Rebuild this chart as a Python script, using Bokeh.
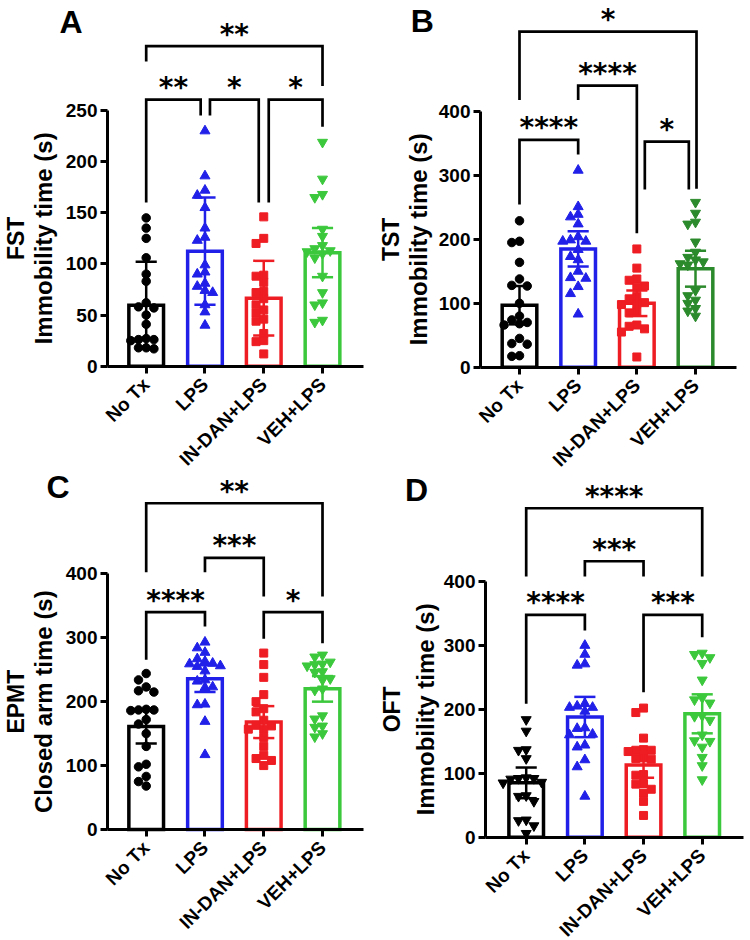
import math
from bokeh.plotting import figure
from bokeh.layouts import gridplot
from bokeh.models import FixedTicker, Label, Range1d
from bokeh.core.properties import value
from bokeh.embed import file_html
from bokeh.resources import INLINE

groups = ["No Tx", "LPS", "IN-DAN+LPS", "VEH+LPS"]

# ---- Forced swim test: immobility time (s)
fst_notx = [145, 135, 125, 106, 90, 83, 62, 58, 57, 50, 41, 27, 26, 26, 25, 18, 18, 17]
fst_lps = [230, 186, 172, 167, 155, 135, 126, 123, 99, 92, 90, 81, 78, 74, 72, 60, 53, 40]
fst_indan = [146, 125, 120, 89, 88, 82, 73, 72, 66, 60, 55, 52, 46, 44, 32, 25, 24, 12]
fst_veh = [219, 183, 168, 165, 134, 127, 118, 115, 113, 112, 110, 106, 88, 72, 62, 60, 45, 43]
fst_mean = [59.5, 112.5, 66.5, 111]
fst_err = [42.5, 52.5, 36.5, 24]
fst_sig = [(0, 3, "**"), (0, 1, "**"), (1, 2, "*"), (2, 3, "*")]

# ---- Tail suspension test: immobility time (s)
tst_notx = [229, 197, 195, 164, 138, 128, 127, 100, 80, 74, 70, 68, 66, 45, 37, 36, 18, 17]
tst_lps = [308, 251, 239, 235, 224, 204, 199, 197, 197, 184, 173, 168, 150, 140, 139, 126, 115, 83]
tst_indan = [185, 155, 138, 136, 127, 125, 111, 107, 101, 99, 98, 87, 85, 66, 64, 60, 55, 16]
tst_veh = [258, 241, 227, 224, 196, 180, 172, 168, 165, 162, 160, 120, 112, 105, 100, 92, 88, 80]
tst_mean = [97, 185, 100, 154]
tst_err = [30, 27.5, 20, 28]
tst_sig = [(0, 3, "*"), (1, 2, "****"), (0, 1, "****"), (2, 3, "*")]

# ---- Elevated plus maze: closed arm time (s)
epmt_notx = [244, 234, 223, 217, 215, 188, 187, 187, 186, 172, 165, 150, 130, 102, 98, 83, 75, 68]
epmt_lps = [293, 284, 277, 267, 263, 260, 259, 256, 255, 248, 234, 232, 223, 222, 196, 195, 169, 117]
epmt_indan = [276, 258, 238, 211, 200, 189, 184, 171, 163, 162, 157, 157, 144, 130, 116, 111, 108, 100]
epmt_veh = [273, 270, 262, 259, 258, 256, 247, 246, 236, 234, 220, 218, 178, 173, 162, 160, 150, 145]
epmt_mean = [161, 236, 168, 220]
epmt_err = [26.5, 21, 25, 20]
epmt_sig = [(0, 3, "**"), (1, 2, "***"), (0, 1, "****"), (2, 3, "*")]

# ---- Open field test: immobility time (s)
oft_notx = [184, 166, 137, 136, 123, 93, 92, 92, 91, 86, 85, 65, 64, 56, 27, 26, 18, 6]
oft_lps = [300, 286, 271, 269, 209, 205, 203, 203, 197, 171, 170, 161, 160, 144, 141, 121, 110, 64]
oft_indan = [202, 195, 155, 137, 136, 136, 134, 124, 123, 122, 98, 97, 84, 83, 75, 69, 56, 34]
oft_veh = [288, 286, 281, 272, 246, 218, 215, 210, 190, 189, 183, 160, 151, 150, 141, 125, 112, 90]
oft_mean = [85, 188, 113, 193]
oft_err = [24, 31.5, 20, 30.5]
oft_sig = [(0, 3, "****"), (1, 2, "***"), (0, 1, "****"), (2, 3, "***")]

BLACK = "#000000"
BLUE = "#2020e8"
RED = "#ee1d23"
GREEN = "#3cc83c"
DKGREEN = "#2b8a2b"

FONT = "Liberation Sans"
W, H = 375, 470
AXIS_PX = 255.7  # pixel length of the value axis


def swarm(vals, sy, sx, step=7.7):
    """Spread equal-ish values sideways so markers do not overlap."""
    order = sorted(range(len(vals)), key=lambda i: -vals[i])
    placed, offs = [], [0.0] * len(vals)
    cand = [0, -1, 1, -2, 2, -3, 3, -4, 4]
    for i in order:
        y = vals[i] * sy
        for k in cand:
            x = k * step
            if all((x - px) ** 2 + (y - py) ** 2 >= (step * 0.92) ** 2 for px, py in placed):
                break
        placed.append((x, y))
        offs[i] = x / sx
    return offs


def panel(letter, line1, line2, ymax, tstep, series, means, errs, colors, markers,
          sig, legs, geo):
    # geo: pixel geometry inside the W x H canvas
    sx = geo["sx"]                  # px per category step
    sy = AXIS_PX / ymax             # px per unit of the value axis
    xlo = 1 - geo["c1"] / sx        # c1: px of the first category
    xhi = xlo + W / sx
    yhi = geo["y0"] / sy            # y0: px of the zero line from the top
    ylo = -(H - geo["y0"]) / sy

    def dx(px):
        return xlo + px / sx

    def dy(py):
        return (geo["y0"] - py) / sy

    p = figure(width=W, height=H, x_range=Range1d(xlo, xhi), y_range=Range1d(ylo, yhi),
               output_backend="svg", toolbar_location=None,
               min_border_left=0, min_border_right=0,
               min_border_bottom=0, min_border_top=0)
    p.outline_line_color = None
    p.xgrid.visible = False
    p.ygrid.visible = False
    p.background_fill_color = "white"
    p.border_fill_color = "white"

    xs = [1, 2, 3, 4]
    p.vbar(x=xs, top=means, bottom=0, width=0.59, fill_color="white",
           line_color=colors, line_width=3.5, line_join="miter")

    # scatter of individual animals
    sizes = {"circle": 8.5, "triangle": 10, "square": 8, "inverted_triangle": 10}
    for i, vals in enumerate(series):
        offs = swarm(vals, sy, sx)
        p.scatter(x=[xs[i] + o for o in offs], y=vals, marker=markers[i],
                  size=sizes[markers[i]], fill_color=colors[i], line_color=colors[i])

    # error bars with caps
    lo = [m - e for m, e in zip(means, errs)]
    hi = [m + e for m, e in zip(means, errs)]
    cw = 0.18
    p.segment(x0=xs, y0=lo, x1=xs, y1=hi, line_color=colors, line_width=2.5)
    p.segment(x0=[x - cw for x in xs], y0=hi, x1=[x + cw for x in xs], y1=hi,
              line_color=colors, line_width=2.5)
    p.segment(x0=[x - cw for x in xs], y0=lo, x1=[x + cw for x in xs], y1=lo,
              line_color=colors, line_width=2.5)

    # significance brackets
    bx, by, tx, ty, tt = [], [], [], [], []
    for (a, b, stars), (level, ya, yb, da, db) in zip(sig, legs):
        xa, xb = xs[a] + da, xs[b] + db
        bx.append([xa, xa, xb, xb])
        by.append([ya, level, level, yb])
        tx.append((xa + xb) / 2)
        ty.append(level)
        tt.append(stars)
    p.multi_line(xs=bx, ys=by, line_color="black", line_width=2.7, line_join="miter")
    p.text(x=tx, y=ty, text=tt, text_font=value("DejaVu Sans"), text_font_style="bold",
           text_font_size="28px", text_align="center", text_baseline="alphabetic",
           y_offset=-12, text_color="black")

    # axes drawn at fixed positions inside the canvas
    p.yaxis.fixed_location = dx(geo["ax"])
    p.yaxis.bounds = (0, ymax)
    p.yaxis.ticker = FixedTicker(ticks=list(range(0, ymax + 1, tstep)))
    p.xaxis.fixed_location = 0
    p.xaxis.bounds = (dx(geo["ax"]), dx(geo["ax_end"]))
    p.xaxis.ticker = FixedTicker(ticks=xs)
    p.xaxis.major_label_overrides = {x: g for x, g in zip(xs, groups)}
    p.xaxis.major_label_orientation = math.pi / 4
    for ax in (p.xaxis, p.yaxis):
        ax.axis_line_width = 3
        ax.axis_line_color = "black"
        ax.major_tick_line_width = 3
        ax.major_tick_line_color = "black"
        ax.major_tick_out = 7
        ax.major_tick_in = 0
        ax.minor_tick_line_color = None
        ax.major_label_text_font = FONT
        ax.major_label_text_font_style = "bold"
        ax.major_label_text_color = "black"
    p.yaxis.major_label_text_font_size = "19px"
    p.yaxis.major_label_standoff = 3
    p.xaxis.major_label_text_font_size = "19px"
    p.xaxis.major_label_standoff = 8

    p.add_layout(Label(x=dx(geo["t1"]), y=ymax / 2, text=line1, angle=math.pi / 2,
                       text_font=FONT, text_font_style="bold", text_font_size="23px",
                       text_align="center", text_baseline="middle", text_color="black"))
    p.add_layout(Label(x=dx(geo["t2"]), y=ymax / 2, text=line2, angle=math.pi / 2,
                       text_font=FONT, text_font_style="bold", text_font_size="24px",
                       text_align="center", text_baseline="middle", text_color="black"))
    lx, ly = geo["letter"]
    p.add_layout(Label(x=dx(lx), y=dy(ly), text=letter, text_font=FONT,
                       text_font_style="bold", text_font_size="32px",
                       text_align="center", text_baseline="middle", text_color="black"))
    return p


pa = panel("A", "FST", "Immobility time (s)", 250, 50,
           [fst_notx, fst_lps, fst_indan, fst_veh], fst_mean, fst_err,
           [BLACK, BLUE, RED, GREEN], ["circle", "triangle", "square", "inverted_triangle"],
           fst_sig,
           [(313, 298, 274, 0, 0), (260.7, 160, 245, 0, -0.073),
            (260.7, 245, 160, 0.085, -0.085), (260.7, 160, 234, 0.085, 0)],
           dict(sx=58.77, c1=145.7, y0=365.7, ax=107, ax_end=363, t1=15, t2=43,
                letter=(70.5, 21.5)))

pb = panel("B", "TST", "Immobility time (s)", 400, 100,
           [tst_notx, tst_lps, tst_indan, tst_veh], tst_mean, tst_err,
           [BLACK, BLUE, RED, DKGREEN], ["circle", "triangle", "square", "inverted_triangle"],
           tst_sig,
           [(525, 418, 279, 0, 0.017), (440.6, 418, 209.6, 0, 0),
            (355.7, 254.5, 332.7, 0, 0), (353, 278, 278, 0.136, -0.114)],
           dict(sx=58.67, c1=144, y0=366.7, ax=105, ax_end=360.7, t1=15, t2=43,
                letter=(46.7, 20)))

pc = panel("C", "EPMT", "Closed arm time (s)", 400, 100,
           [epmt_notx, epmt_lps, epmt_indan, epmt_veh], epmt_mean, epmt_err,
           [BLACK, BLUE, RED, GREEN], ["circle", "triangle", "square", "inverted_triangle"],
           epmt_sig,
           [(510.4, 402.5, 364.5, 0, 0), (425, 402.5, 364.5, 0, 0),
            (340, 265.4, 317.5, 0, 0), (340, 298.3, 291.4, 0, 0)],
           dict(sx=58.77, c1=145.7, y0=359, ax=107, ax_end=363, t1=15, t2=43,
                letter=(57.5, 16.7)))

pd = panel("D", "OFT", "Immobility time (s)", 400, 100,
           [oft_notx, oft_lps, oft_indan, oft_veh], oft_mean, oft_err,
           [BLACK, BLUE, RED, GREEN],
           ["inverted_triangle", "triangle", "square", "inverted_triangle"],
           oft_sig,
           [(514.6, 407.8, 407.8, 0, 0), (431.7, 407.8, 407.8, 0, 0),
            (347.8, 208.6, 323.3, 0, 0), (347.8, 226.8, 312.8, 0, 0)],
           dict(sx=58.67, c1=150.7, y0=366.7, ax=110, ax_end=367.7, t1=16.7, t2=50,
                letter=(41, 19.5)))

grid = gridplot([[pa, pb], [pc, pd]], toolbar_location=None)

open("out.html", "w").write(file_html(grid, INLINE))
